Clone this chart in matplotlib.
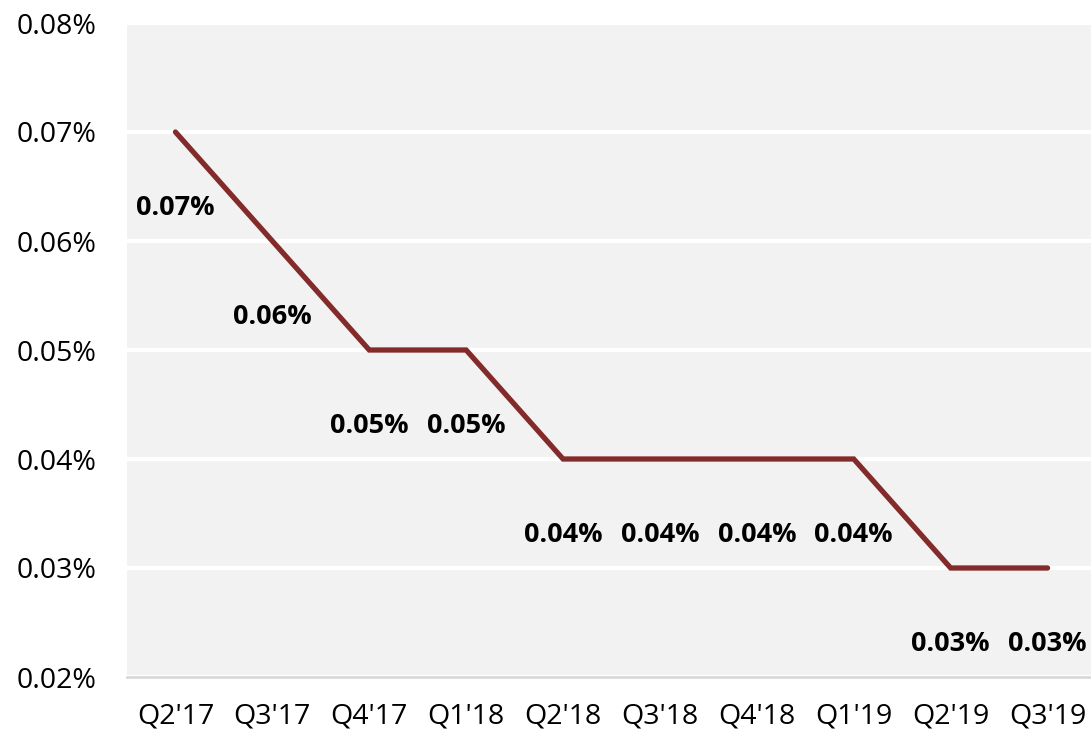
import matplotlib.pyplot as plt
from matplotlib.ticker import FuncFormatter

# Quarterly rate, in percent
quarters = ["Q2'17", "Q3'17", "Q4'17", "Q1'18", "Q2'18", "Q3'18", "Q4'18", "Q1'19", "Q2'19", "Q3'19"]
rates = [0.07, 0.06, 0.05, 0.05, 0.04, 0.04, 0.04, 0.04, 0.03, 0.03]
y_ticks = [0.02, 0.03, 0.04, 0.05, 0.06, 0.07, 0.08]

plt.rcParams['font.family'] = ['Open Sans', 'DejaVu Sans']

fig = plt.figure(figsize=(10.91, 7.30), dpi=100)
ax = fig.add_axes([127 / 1091, 1 - 677 / 730, 969 / 1091, 654 / 730])
ax.set_facecolor('#f2f2f2')

x = list(range(len(quarters)))
ax.plot(x, rates, color='#832a2a', linewidth=3.8, solid_capstyle='round', solid_joinstyle='miter', zorder=3)

# Value labels sit below each point
for xi, r in zip(x, rates):
    ax.annotate(f'{r:.2f}%', (xi, r), xytext=(0, -55), textcoords='offset points',
                ha='center', va='center', fontsize=19.5, fontweight='bold', color='black')

ax.set_xlim(-0.5, len(quarters) - 0.5)
ax.set_ylim(0.02, 0.08)
ax.set_xticks(x)
ax.set_xticklabels(quarters)
ax.set_yticks(y_ticks)
ax.yaxis.set_major_formatter(FuncFormatter(lambda v, p: f'{v:.2f}%'))

ax.grid(axis='y', color='white', linewidth=3)
ax.set_axisbelow(True)
for side in ['top', 'right', 'left']:
    ax.spines[side].set_visible(False)
ax.spines['bottom'].set_color('#d9d9d9')
ax.spines['bottom'].set_linewidth(2)

ax.tick_params(axis='both', length=0, labelsize=20.5, colors='black')
ax.tick_params(axis='x', pad=18)
ax.tick_params(axis='y', pad=22)

fig.savefig('out.png', dpi=100)
